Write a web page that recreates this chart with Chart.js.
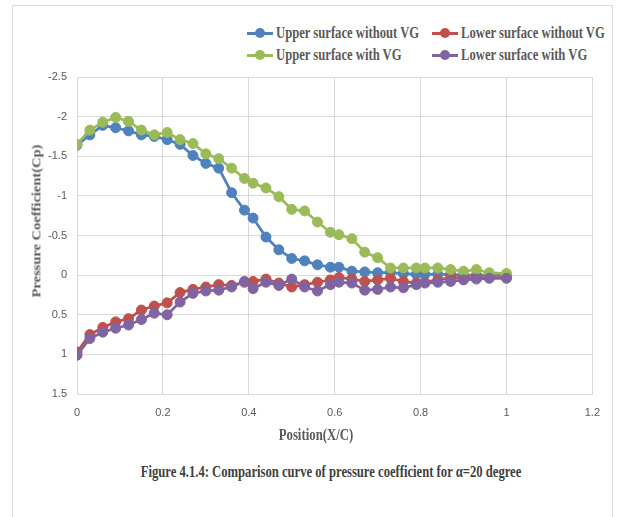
<!DOCTYPE html>
<html>
<head>
<meta charset="utf-8">
<script src="https://cdn.jsdelivr.net/npm/chart.js@4.4.0/dist/chart.umd.min.js"></script>
<style>
    body { margin: 0; background: #fff; width: 621px; height: 517px; overflow: hidden; position: relative; }
    .frame { position: absolute; left: 12px; top: 5px; width: 599px; height: 560px; border: 1px solid #d9d9d9; }
    .chartBox { position: absolute; left: 12px; top: 60px; width: 600px; height: 390px; }
    .txt { position: absolute; font-family: 'Liberation Serif', 'Times New Roman', serif; font-weight: bold; color: #595959; white-space: nowrap; line-height: 1; }
    .center { transform: translate(-50%, -50%) scaleX(0.8); }
    .legItem { position: absolute; height: 20px; }
    .legLine { position: absolute; left: 0; top: 9px; width: 26px; height: 3px; }
    .legDot { position: absolute; left: 8px; top: 5px; width: 10px; height: 10px; border-radius: 50%; }
    .legText { position: absolute; left: 29px; top: 2px; font-size: 16px; transform-origin: left center; transform: scaleX(0.79); }
</style>
</head>
<body>
<div class="frame"></div>
<div id="legend"></div>
<div class="chartBox"><canvas id="cpChart" width="600" height="390"></canvas></div>
<div class="txt" style="left:37px; top:221px; font-size:14.5px; transform: translate(-50%, -50%) rotate(-90deg) scaleY(0.8);">Pressure Coefficient(Cp)</div>
<div class="txt center" style="left:316px; top:435px; font-size:16px;">Position(X/C)</div>
<div class="txt" style="left:331px; top:472px; font-size:16px; color:#404040; transform: translate(-50%, -50%) scaleX(0.79);">Figure 4.1.4: Comparison curve of pressure coefficient for α=20 degree</div>

<script>
// chord positions (X/C)
const xPos = [0, 0.03, 0.06, 0.09, 0.12, 0.15, 0.18, 0.21, 0.24, 0.27, 0.30, 0.33, 0.36, 0.39, 0.41,
    0.44, 0.47, 0.50, 0.53, 0.56, 0.59, 0.61, 0.64, 0.67, 0.70, 0.73, 0.76, 0.79, 0.81,
    0.84, 0.87, 0.90, 0.93, 0.96, 1.0];

// Cp values
const upperNoVG = [-1.64, -1.77, -1.89, -1.86, -1.82, -1.77, -1.75, -1.71, -1.65, -1.51, -1.41, -1.35, -1.04, -0.82, -0.72,
    -0.48, -0.32, -0.21, -0.18, -0.13, -0.10, -0.10, -0.05, -0.04, -0.03, -0.03, -0.02, -0.01, -0.01,
    -0.01, -0.01, 0, 0, 0, 0];
const lowerNoVG = [0.97, 0.75, 0.66, 0.59, 0.55, 0.44, 0.39, 0.35, 0.22, 0.18, 0.15, 0.12, 0.13, 0.09, 0.08,
    0.05, 0.10, 0.15, 0.12, 0.09, 0.06, 0.03, 0.05, 0.08, 0.06, 0.04, 0.08, 0.10, 0.09,
    0.06, 0.03, 0.03, 0.03, 0.03, 0.03];
const upperVG = [-1.65, -1.83, -1.93, -1.99, -1.94, -1.83, -1.77, -1.80, -1.71, -1.66, -1.53, -1.47, -1.35, -1.22, -1.16,
    -1.10, -0.99, -0.83, -0.81, -0.67, -0.54, -0.51, -0.46, -0.29, -0.22, -0.09, -0.09, -0.09, -0.09,
    -0.09, -0.07, -0.05, -0.07, -0.03, -0.02];
const lowerVG = [1.01, 0.80, 0.72, 0.67, 0.63, 0.56, 0.48, 0.50, 0.34, 0.23, 0.20, 0.19, 0.15, 0.08, 0.17,
    0.09, 0.13, 0.05, 0.15, 0.20, 0.12, 0.09, 0.10, 0.19, 0.18, 0.15, 0.16, 0.12, 0.10,
    0.09, 0.08, 0.06, 0.05, 0.04, 0.04];

const seriesNames = ['Upper surface without VG', 'Lower surface without VG', 'Upper surface with VG', 'Lower surface with VG'];
const seriesData = [upperNoVG, lowerNoVG, upperVG, lowerVG];
const COLORS = ['#4F81BD', '#C0504D', '#9BBB59', '#8064A2'];

const xTicks = { min: 0, max: 1.2, step: 0.2 };
const yTicks = { min: -2.5, max: 1.5, step: 0.5 };

// legend (2 x 2 grid, same order as the series)
const legendSpots = [[247, 23], [432, 23], [247, 45], [432, 45]];
const legend = document.getElementById('legend');
seriesNames.forEach((name, i) => {
    const item = document.createElement('div');
    item.className = 'legItem';
    item.style.left = legendSpots[i][0] + 'px';
    item.style.top = legendSpots[i][1] + 'px';
    item.innerHTML = `
        <span class="legLine" style="background:${COLORS[i]}"></span>
        <span class="legDot" style="background:${COLORS[i]}"></span>
        <span class="txt legText">${name}</span>
    `;
    legend.appendChild(item);
});

const tickFont = { family: "'Liberation Sans Narrow', 'Liberation Sans', Arial, sans-serif", size: 11 };
const fmt = v => String(Number(v.toFixed(2)));

const datasets = seriesData.map((vals, idx) => ({
    label: seriesNames[idx],
    data: vals.map((y, j) => ({ x: xPos[j], y })),
    borderColor: COLORS[idx],
    backgroundColor: COLORS[idx],
    pointBackgroundColor: COLORS[idx],
    pointBorderColor: COLORS[idx],
    borderWidth: 2.75,
    pointRadius: 5,
    pointBorderWidth: 1,
    tension: 0,
    fill: false,
    order: 3 - idx   // later series on top, like the original
}));

new Chart(document.getElementById('cpChart'), {
    type: 'line',
    data: { datasets },
    options: {
        responsive: false,
        animation: false,
        layout: { padding: { top: 17, right: 17, left: 0, bottom: 0 } },
        plugins: { legend: { display: false }, tooltip: { enabled: false } },
        scales: {
            x: {
                type: 'linear',
                min: xTicks.min,
                max: xTicks.max,
                grid: { color: '#d9d9d9', drawTicks: false },
                border: { color: '#d9d9d9' },
                ticks: { stepSize: xTicks.step, color: '#595959', font: tickFont, padding: 12, callback: fmt },
                afterFit: s => { s.height = 56; }
            },
            y: {
                type: 'linear',
                reverse: true,
                min: yTicks.min,
                max: yTicks.max,
                grid: { color: '#d9d9d9', drawTicks: false },
                border: { color: '#d9d9d9' },
                ticks: { stepSize: yTicks.step, color: '#595959', font: tickFont, padding: 10, callback: fmt },
                afterFit: s => { s.width = 65; }
            }
        }
    }
});
</script>
</body>
</html>
